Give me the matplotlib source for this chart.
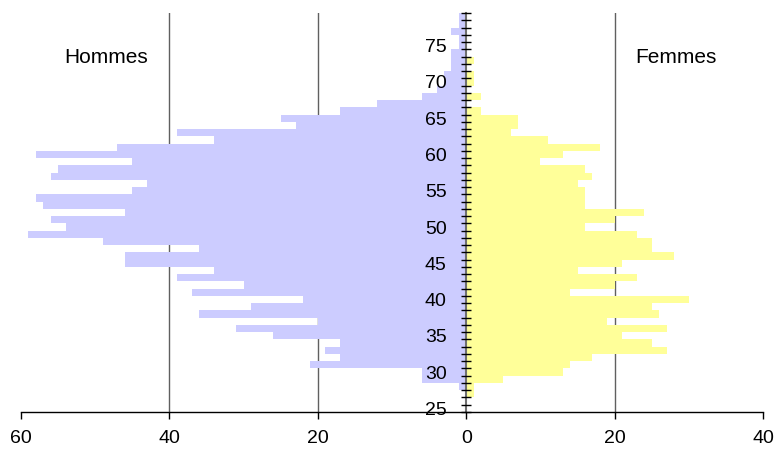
import numpy as np
import matplotlib
matplotlib.use("Agg")
import matplotlib.pyplot as plt

plt.rcParams['font.family'] = ['Liberation Sans', 'DejaVu Sans']

# ages 25..79, one value per age
ages = list(range(25, 80))
hommes = [0, 0, 0, 1, 6, 6, 21, 17, 19, 17,
          26, 31, 20, 36, 29, 22, 37, 30, 39, 34,
          46, 46, 36, 49, 59, 54, 56, 46, 57, 58,
          45, 43, 56, 55, 45, 58, 47, 34, 39, 23,
          25, 17, 12, 6, 4, 3, 3, 2, 2, 2,
          1, 1, 2, 1, 1]
femmes = [0, 0, 1, 1, 5, 13, 14, 17, 27, 25,
          21, 27, 19, 26, 25, 30, 14, 20, 23, 15,
          21, 28, 25, 25, 23, 16, 20, 24, 16, 16,
          16, 15, 17, 16, 10, 13, 18, 11, 6, 7,
          7, 2, 0, 2, 0, 1, 1, 0, 1, 0,
          0, 0, 0, 0, 0]

x_ticks = [-60, -40, -20, 0, 20, 40]
x_labels = ['60', '40', '20', '0', '20', '40']

fig = plt.figure(figsize=(7.77, 4.5), dpi=100)
ax = fig.add_axes([21 / 777, 38 / 450, 742 / 777, 399 / 450])
ax.set_axisbelow(False)

ages_arr = np.array(ages)
ax.barh(ages_arr, -np.array(hommes), height=1.0, color='#CCCCFF', zorder=1)
ax.barh(ages_arr, np.array(femmes), height=1.0, color='#FFFF99', zorder=1)

# vertical grid lines
for gx in [-40, -20, 20]:
    ax.axvline(gx, color='#606060', lw=1, zorder=0.5)

ax.set_xlim(-60, 40)
ax.set_ylim(24.5, 79.5)

ax.spines['top'].set_visible(False)
ax.spines['right'].set_visible(False)
ax.spines['left'].set_position(('data', 0))
ax.spines['left'].set_color('#707070')
ax.spines['left'].set_linewidth(1.5)
ax.spines['bottom'].set_color('black')
ax.spines['bottom'].set_linewidth(1)

ax.set_xticks(x_ticks)
ax.set_xticklabels(x_labels, fontsize=14)
ax.tick_params(axis='x', direction='out', length=5, width=1, color='black', pad=8)

ax.set_yticks(range(25, 80, 5))
ax.set_yticklabels([str(a) for a in range(25, 80, 5)], fontsize=14)
ax.set_yticks(np.arange(24.5, 80, 1), minor=True)
ax.tick_params(axis='y', which='major', length=0, pad=14)
ax.tick_params(axis='y', which='minor', direction='inout', length=7, width=1, color='black')

ax.text(-48.5, 73.3, 'Hommes', fontsize=15, ha='center', va='center')
ax.text(28.2, 73.3, 'Femmes', fontsize=15, ha='center', va='center')

fig.savefig('out.png', dpi=100)
